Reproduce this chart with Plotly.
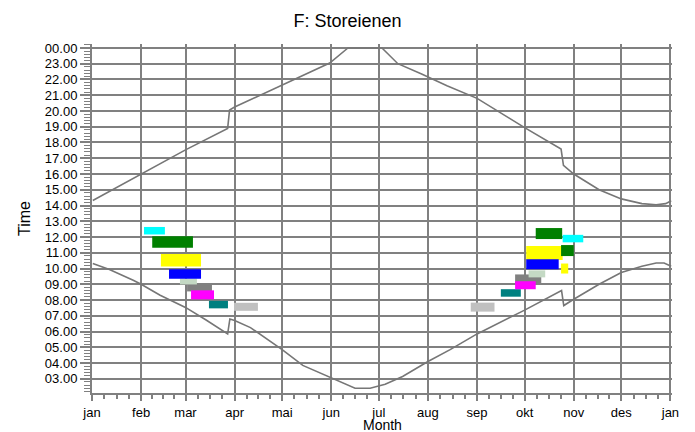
import plotly.graph_objects as go

# ---------------- data ----------------
month_labels = ['jan', 'feb', 'mar', 'apr', 'mai', 'jun', 'jul', 'aug',
                'sep', 'okt', 'nov', 'des', 'jan']
month_start = [0, 31, 59, 90, 120, 151, 181, 212, 243, 273, 304, 334, 365]

hour_vals = list(range(3, 25))
hour_labels = ['%02d.00' % (h % 24) for h in hour_vals]

# sunset (upper curve), day of year -> hour
set_day = [0.5, 31, 59, 85.6, 86.8, 90, 100, 119, 135, 150, 161.5, 183,
           193, 208, 224, 243, 273, 296, 297.5, 304, 320, 334, 347, 356,
           362, 365.5]
set_hour = [14.32, 16.0, 17.53, 18.89, 20.06, 20.25, 20.72, 21.6, 22.35,
            23.04, 24.0, 24.0, 23.0, 22.35, 21.6, 20.8, 18.94, 17.58, 16.55,
            16.0, 15.0, 14.42, 14.12, 14.05, 14.12, 14.3]

# sunrise (lower curve)
rise_day = [0.5, 11, 26, 31, 43, 59, 72, 85.6, 87, 90, 100, 120, 133, 151,
            166, 175.5, 181, 185, 196, 212, 226, 243, 273, 296.3, 297.7, 304,
            320, 334, 347, 356, 361, 365.5]
rise_hour = [10.32, 9.94, 9.25, 9.0, 8.3, 7.53, 6.73, 5.85, 6.8, 6.7, 6.25,
             4.85, 3.85, 3.05, 2.4, 2.4, 2.55, 2.65, 3.15, 4.1, 4.85, 5.85,
             7.36, 8.6, 7.65, 8.05, 9.0, 9.75, 10.15, 10.35, 10.35, 10.15]

# observation periods: start day, end day, time of day (hour)
obs_start = [89.6, 73.8, 60.0, 62.5, 55.5, 43.5, 48.6, 38.0, 32.8,
             239, 258, 267, 267, 275.5, 274, 274, 296, 280, 296, 297]
obs_end = [104.7, 85.8, 75.7, 77.0, 66.2, 68.8, 68.8, 63.7, 46.0,
           254, 270.6, 283.5, 280, 286, 297, 294.5, 300.5, 296.7, 304, 310]
obs_time = [7.57, 7.71, 8.77, 8.33, 9.18, 10.52, 9.66, 11.68, 12.40,
            7.55, 8.45, 9.34, 8.94, 9.66, 10.98, 10.27, 10.0, 12.22, 11.14, 11.90]

# ---------------- style ----------------
obs_color = ['#C0C0C0', '#008080', '#808080', '#FF00FF', '#C4D9C4',
             '#FFFF00', '#0000FF', '#008000', '#00FFFF',
             '#C0C0C0', '#008080', '#808080', '#FF00FF', '#C4D9C4',
             '#FFFF00', '#0000FF', '#FFFF00', '#008000', '#008000', '#00FFFF']
obs_width = [8, 7.5, 7, 9, 6, 12.5, 9.5, 11.5, 7.5,
             9, 7.5, 9, 8, 7, 14, 10, 10, 11, 11, 7.5]

GRID = '#808080'
FONT = 'Liberation Sans, Arial, sans-serif'

fig = go.Figure()

fig.add_trace(go.Scatter(x=set_day, y=set_hour, mode='lines',
                         line=dict(color='#767676', width=1.6),
                         hoverinfo='skip', showlegend=False))
fig.add_trace(go.Scatter(x=rise_day, y=rise_hour, mode='lines',
                         line=dict(color='#767676', width=1.6),
                         hoverinfo='skip', showlegend=False))

for s, e, t, c, w in zip(obs_start, obs_end, obs_time, obs_color, obs_width):
    fig.add_trace(go.Scatter(x=[s, e], y=[t, t], mode='lines',
                             line=dict(color=c, width=w),
                             hoverinfo='skip', showlegend=False))

# minor x ticks: quarter-month positions
minor_x = []
for a, b in zip(month_start[:-1], month_start[1:]):
    for k in (1, 2, 3):
        minor_x.append(a + (b - a) * k / 4)

fig.update_layout(
    template='none',
    width=695, height=432,
    margin=dict(l=92, r=23, t=44, b=39, autoexpand=False),
    paper_bgcolor='white', plot_bgcolor='white',
    font=dict(family=FONT, size=13, color='black'),
    title=dict(text='F: Storeienen', x=0.5, xref='container', xanchor='center',
               y=0.953, yref='container', yanchor='middle',
               font=dict(family=FONT, size=18, color='black')),
    xaxis=dict(
        automargin=False,
        range=[0, 366], tickmode='array', tickvals=month_start,
        ticktext=month_labels, showgrid=True, gridcolor=GRID, gridwidth=2,
        zeroline=False, showline=True, linecolor=GRID, linewidth=2,
        ticks='outside', ticklen=6, tickwidth=1.5, tickcolor=GRID,
        minor=dict(tickmode='array', tickvals=minor_x, ticks='outside',
                   ticklen=4, tickwidth=1.5, tickcolor=GRID, showgrid=False),
        tickfont=dict(family=FONT, size=13),
        fixedrange=True,
    ),
    yaxis=dict(
        automargin=False,
        range=[2.1, 24.25], tickmode='array', tickvals=hour_vals,
        ticktext=hour_labels, showgrid=True, gridcolor=GRID, gridwidth=2,
        zeroline=False, showline=True, linecolor=GRID, linewidth=2,
        ticks='outside', ticklen=10, tickwidth=1.5, tickcolor=GRID,
        minor=dict(dtick=0.2, tick0=0, ticks='outside', ticklen=6,
                   tickwidth=1, tickcolor=GRID, showgrid=False),
        title=dict(text='Time', standoff=10, font=dict(family=FONT, size=16)),
        tickfont=dict(family=FONT, size=13),
        fixedrange=True,
    ),
    annotations=[dict(text='Month', xref='paper', yref='paper', x=0.5,
                      y=-0.091, xanchor='center', yanchor='middle',
                      showarrow=False, font=dict(family=FONT, size=14))],
)

fig.write_html('out.html')
